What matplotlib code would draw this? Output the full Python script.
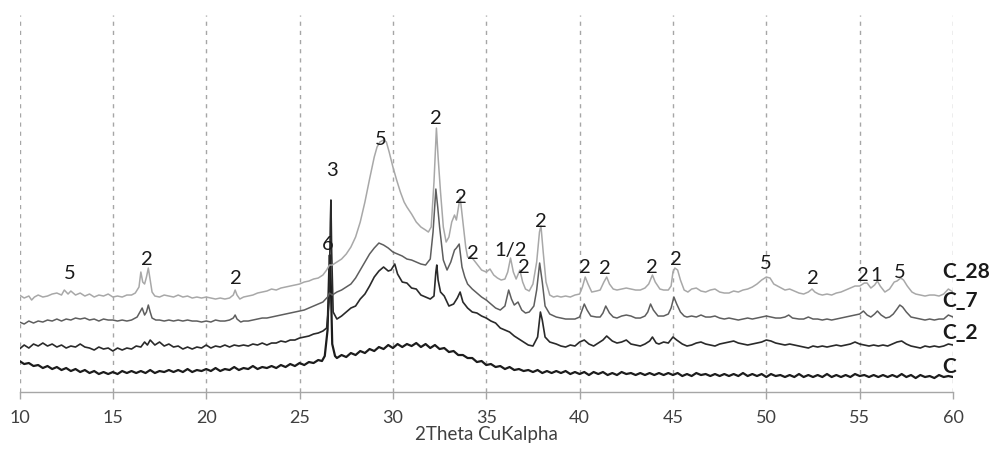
import matplotlib
matplotlib.use("Agg")
import matplotlib.pyplot as plt

plt.rcParams['font.family'] = ['Lato', 'DejaVu Sans']
plt.rcParams['lines.scale_dashes'] = False

# ---- data: 2theta (deg) and relative intensity (arbitrary, offset stacked) ----
c_pts = [(10.0,31),(10.25,28),(10.5,29),(10.75,26),(11.0,27),(11.25,24),(11.5,26),(11.75,23),(12.0,25),(12.25,22),(12.5,24),(12.75,21),(13.0,23),(13.25,20),(13.5,22),(13.75,19),(14.0,21),(14.25,18),(14.5,20),(14.75,18),(15.0,20),(15.25,18),(15.5,21),(15.75,19),(16.0,21),(16.25,19),(16.5,21),(16.75,19),(17.0,22),(17.25,19),(17.5,21),(17.75,20),(18.0,22),(18.25,20),(18.5,22),(18.75,20),(19.0,23),(19.25,20),(19.5,22),(19.75,21),(20.0,23),(20.25,21),(20.5,24),(20.75,21),(21.0,23),(21.25,22),(21.5,25),(21.75,22),(22.0,24),(22.25,23),(22.5,26),(22.75,23),(23.0,25),(23.25,24),(23.5,26),(23.75,24),(24.0,27),(24.25,25),(24.5,28),(24.75,26),(25.0,29),(25.25,27),(25.5,30),(25.75,29),(26.0,32),(26.2,31),(26.35,36),(26.5,62),(26.58,118),(26.62,137),(26.67,112),(26.75,48),(26.9,36),(27.0,34),(27.25,37),(27.5,35),(27.75,39),(28.0,37),(28.25,41),(28.5,39),(28.75,43),(29.0,41),(29.25,45),(29.5,43),(29.75,47),(30.0,44),(30.25,48),(30.5,45),(30.75,48),(31.0,46),(31.25,49),(31.5,45),(31.75,48),(32.0,44),(32.25,47),(32.5,43),(32.75,44),(33.0,40),(33.25,41),(33.5,37),(33.75,37),(34.0,34),(34.25,34),(34.5,30),(34.75,31),(35.0,27),(35.25,28),(35.5,25),(35.75,26),(36.0,23),(36.25,25),(36.5,22),(36.75,23),(37.0,21),(37.25,22),(37.5,20),(37.75,22),(38.0,19),(38.25,21),(38.5,19),(38.75,21),(39.0,19),(39.25,21),(39.5,18),(39.75,20),(40.0,18),(40.25,20),(40.5,17),(40.75,20),(41.0,18),(41.25,20),(41.5,17),(41.75,19),(42.0,17),(42.25,20),(42.5,18),(42.75,19),(43.0,17),(43.25,19),(43.5,17),(43.75,19),(44.0,17),(44.25,19),(44.5,17),(44.75,19),(45.0,17),(45.25,19),(45.5,16),(45.75,18),(46.0,16),(46.25,19),(46.5,17),(46.75,18),(47.0,16),(47.25,18),(47.5,16),(47.75,18),(48.0,16),(48.25,18),(48.5,16),(48.75,19),(49.0,16),(49.25,18),(49.5,16),(49.75,18),(50.0,15),(50.25,18),(50.5,16),(50.75,17),(51.0,15),(51.25,17),(51.5,15),(51.75,18),(52.0,15),(52.25,17),(52.5,15),(52.75,17),(53.0,15),(53.25,18),(53.5,15),(53.75,17),(54.0,15),(54.25,17),(54.5,15),(54.75,18),(55.0,16),(55.25,17),(55.5,15),(55.75,17),(56.0,15),(56.25,17),(56.5,15),(56.75,17),(57.0,15),(57.25,18),(57.5,15),(57.75,17),(58.0,14),(58.25,17),(58.5,15),(58.75,16),(59.0,14),(59.25,17),(59.5,15),(59.75,16),(60.0,15)]

c2_pts = [(10.0,43),(10.25,47),(10.5,44),(10.75,48),(11.0,46),(11.25,49),(11.5,46),(11.75,48),(12.0,45),(12.25,47),(12.5,44),(12.75,46),(13.0,45),(13.25,48),(13.5,45),(13.75,44),(14.0,42),(14.25,45),(14.5,43),(14.75,44),(15.0,41),(15.25,44),(15.5,42),(15.75,44),(16.0,43),(16.25,46),(16.5,45),(16.7,50),(16.85,47),(17.0,52),(17.25,47),(17.5,50),(17.75,46),(18.0,48),(18.25,45),(18.5,46),(18.75,43),(19.0,45),(19.25,43),(19.5,45),(19.75,44),(20.0,47),(20.25,44),(20.5,46),(20.75,45),(21.0,47),(21.25,45),(21.5,47),(21.75,46),(22.0,47),(22.25,46),(22.5,48),(22.75,47),(23.0,49),(23.25,47),(23.5,49),(23.75,49),(24.0,51),(24.25,50),(24.5,52),(24.75,52),(25.0,54),(25.25,55),(25.5,56),(25.75,58),(26.0,59),(26.25,61),(26.45,64),(26.58,90),(26.65,170),(26.68,192),(26.72,140),(26.8,80),(27.0,73),(27.25,76),(27.5,80),(27.75,84),(28.0,86),(28.25,93),(28.5,98),(28.75,106),(29.0,115),(29.25,121),(29.5,125),(29.75,121),(29.9,122),(30.1,128),(30.25,118),(30.5,110),(30.75,109),(31.0,104),(31.25,103),(31.5,97),(31.75,95),(32.0,93),(32.2,96),(32.3,120),(32.35,127),(32.42,112),(32.55,100),(32.75,96),(33.0,86),(33.25,88),(33.45,94),(33.6,100),(33.75,90),(34.0,84),(34.25,80),(34.5,79),(34.75,76),(35.0,74),(35.25,71),(35.5,69),(35.75,64),(36.0,62),(36.25,60),(36.5,56),(36.75,53),(37.0,50),(37.25,47),(37.5,46),(37.75,55),(37.9,80),(38.0,72),(38.15,55),(38.4,50),(38.75,48),(39.0,46),(39.25,45),(39.5,47),(39.75,46),(40.0,50),(40.25,52),(40.5,48),(40.75,46),(41.0,49),(41.25,52),(41.45,56),(41.75,51),(42.0,49),(42.25,50),(42.5,52),(42.75,48),(43.0,47),(43.25,46),(43.5,48),(43.75,51),(43.9,55),(44.1,49),(44.25,48),(44.5,50),(44.75,49),(45.0,55),(45.2,52),(45.5,48),(45.75,46),(46.0,47),(46.25,49),(46.5,50),(46.75,48),(47.0,47),(47.25,46),(47.5,48),(47.75,49),(48.0,50),(48.25,51),(48.5,49),(48.75,48),(49.0,47),(49.25,48),(49.5,49),(49.75,50),(50.0,52),(50.25,51),(50.5,49),(50.75,48),(51.0,47),(51.25,48),(51.5,47),(51.75,46),(52.0,45),(52.25,44),(52.5,46),(52.75,45),(53.0,46),(53.25,45),(53.5,46),(53.75,47),(54.0,46),(54.25,47),(54.5,48),(54.75,50),(55.0,48),(55.25,47),(55.5,46),(55.75,47),(56.0,46),(56.25,47),(56.5,46),(56.75,48),(57.0,50),(57.25,51),(57.5,48),(57.75,46),(58.0,45),(58.25,44),(58.5,46),(58.75,45),(59.0,46),(59.25,45),(59.5,46),(59.75,48),(60.0,47)]

c7_pts = [(10.0,70),(10.25,68),(10.5,71),(10.75,69),(11.0,71),(11.25,70),(11.5,72),(11.75,71),(12.0,73),(12.25,71),(12.5,73),(12.75,72),(13.0,74),(13.25,73),(13.5,74),(13.75,72),(14.0,73),(14.25,71),(14.5,73),(14.75,72),(15.0,72),(15.25,71),(15.5,72),(15.75,71),(16.0,72),(16.3,75),(16.45,80),(16.57,84),(16.7,77),(16.8,80),(16.9,87),(17.0,80),(17.1,74),(17.3,72),(17.5,72),(17.75,71),(18.0,72),(18.25,71),(18.5,72),(18.75,71),(19.0,72),(19.25,71),(19.5,71),(19.75,70),(20.0,71),(20.25,70),(20.5,72),(20.75,71),(21.0,71),(21.25,72),(21.45,74),(21.55,77),(21.65,73),(21.85,70),(22.0,71),(22.25,71),(22.5,72),(22.75,73),(23.0,74),(23.25,74),(23.5,75),(23.75,76),(24.0,77),(24.25,78),(24.5,79),(24.75,80),(25.0,81),(25.25,82),(25.5,84),(25.75,86),(26.0,88),(26.25,90),(26.5,95),(26.6,99),(26.75,97),(27.0,100),(27.25,102),(27.5,105),(27.75,108),(28.0,114),(28.25,122),(28.5,130),(28.75,138),(29.0,144),(29.25,149),(29.5,147),(29.75,144),(30.0,140),(30.25,138),(30.5,136),(30.75,133),(31.0,132),(31.25,130),(31.5,128),(31.75,127),(32.0,133),(32.15,160),(32.3,203),(32.4,185),(32.5,165),(32.7,132),(32.9,122),(33.1,130),(33.3,142),(33.4,144),(33.55,148),(33.7,125),(33.85,115),(34.0,108),(34.25,103),(34.5,99),(34.75,95),(35.0,92),(35.25,88),(35.5,84),(35.75,82),(36.0,86),(36.2,102),(36.35,93),(36.5,87),(36.7,90),(36.9,82),(37.1,79),(37.3,80),(37.55,86),(37.7,102),(37.86,129),(38.0,110),(38.15,86),(38.4,78),(38.75,75),(39.0,74),(39.25,73),(39.5,73),(39.75,73),(40.0,75),(40.25,88),(40.4,82),(40.6,76),(40.9,75),(41.1,75),(41.25,79),(41.4,86),(41.6,79),(41.8,75),(42.0,74),(42.25,76),(42.5,77),(42.75,76),(43.0,74),(43.25,74),(43.5,76),(43.65,80),(43.8,88),(43.95,82),(44.2,76),(44.5,76),(44.75,78),(44.9,84),(45.05,95),(45.2,88),(45.4,80),(45.6,76),(45.75,75),(46.0,76),(46.25,75),(46.5,77),(46.75,75),(47.0,75),(47.25,76),(47.5,74),(47.75,73),(48.0,74),(48.25,73),(48.5,72),(48.75,73),(49.0,74),(49.25,73),(49.5,74),(49.75,75),(50.0,76),(50.25,75),(50.5,74),(50.75,74),(51.0,75),(51.2,77),(51.4,74),(51.75,73),(52.0,73),(52.25,75),(52.5,73),(52.75,73),(53.0,72),(53.25,73),(53.5,72),(53.75,73),(54.0,74),(54.25,75),(54.5,76),(54.75,77),(55.0,78),(55.2,81),(55.4,77),(55.6,75),(55.8,78),(55.95,81),(56.15,77),(56.4,74),(56.6,75),(56.8,78),(57.0,83),(57.15,87),(57.3,85),(57.5,80),(57.75,75),(58.0,74),(58.25,73),(58.5,72),(58.75,73),(59.0,72),(59.25,73),(59.5,73),(59.75,77),(60.0,75)]

c28_pts = [(10.0,97),(10.25,94),(10.5,96),(10.65,92),(10.8,95),(11.0,97),(11.25,95),(11.5,96),(11.75,98),(12.0,99),(12.25,97),(12.4,102),(12.6,98),(12.75,101),(13.0,97),(13.25,99),(13.5,96),(13.75,98),(14.0,95),(14.25,97),(14.5,96),(14.75,98),(15.0,95),(15.25,96),(15.5,95),(15.75,97),(16.0,97),(16.2,99),(16.4,105),(16.5,120),(16.6,110),(16.7,108),(16.8,115),(16.9,124),(17.0,112),(17.1,100),(17.25,96),(17.5,95),(17.75,97),(18.0,96),(18.25,95),(18.5,97),(18.75,95),(19.0,96),(19.25,94),(19.5,95),(19.75,94),(20.0,95),(20.25,94),(20.5,93),(20.75,94),(21.0,93),(21.25,94),(21.45,97),(21.55,102),(21.65,97),(21.8,93),(22.0,95),(22.25,96),(22.5,97),(22.75,99),(23.0,100),(23.25,101),(23.5,103),(23.75,102),(24.0,104),(24.25,105),(24.5,106),(24.75,107),(25.0,108),(25.25,110),(25.5,111),(25.75,113),(26.0,114),(26.25,117),(26.45,122),(26.6,127),(26.75,127),(27.0,130),(27.25,133),(27.5,138),(27.75,145),(28.0,155),(28.25,170),(28.5,190),(28.75,213),(29.0,235),(29.15,245),(29.3,250),(29.5,252),(29.65,250),(29.8,240),(30.0,225),(30.2,212),(30.4,200),(30.6,190),(30.75,185),(31.0,178),(31.25,170),(31.5,165),(31.75,162),(31.9,160),(32.05,165),(32.2,210),(32.33,264),(32.42,235),(32.55,200),(32.7,165),(32.85,150),(33.0,155),(33.15,170),(33.3,177),(33.4,172),(33.6,195),(33.75,170),(33.9,145),(34.0,135),(34.25,134),(34.5,128),(34.75,122),(35.0,120),(35.2,123),(35.4,117),(35.6,114),(35.8,112),(36.0,113),(36.15,120),(36.3,134),(36.45,120),(36.6,113),(36.8,122),(36.95,110),(37.1,103),(37.3,101),(37.5,108),(37.7,130),(37.85,160),(37.93,166),(38.05,140),(38.2,110),(38.4,97),(38.6,95),(38.8,96),(39.0,95),(39.25,96),(39.5,95),(39.75,97),(40.0,98),(40.15,105),(40.3,115),(40.45,108),(40.65,100),(40.9,101),(41.1,102),(41.3,110),(41.45,115),(41.6,108),(41.8,103),(42.0,102),(42.25,103),(42.5,104),(42.75,103),(43.0,102),(43.25,102),(43.5,104),(43.7,108),(43.9,117),(44.05,110),(44.3,103),(44.5,102),(44.75,102),(44.9,106),(45.0,120),(45.1,124),(45.25,122),(45.4,112),(45.6,102),(45.8,100),(46.0,103),(46.25,104),(46.5,101),(46.75,100),(47.0,102),(47.25,103),(47.5,100),(47.75,99),(48.0,99),(48.25,101),(48.5,100),(48.75,102),(49.0,103),(49.25,105),(49.5,108),(49.75,112),(50.0,115),(50.2,114),(50.4,108),(50.6,106),(50.8,104),(51.0,102),(51.25,103),(51.5,101),(51.75,99),(52.0,98),(52.25,100),(52.45,103),(52.6,100),(52.8,98),(53.0,97),(53.25,98),(53.5,97),(53.75,99),(54.0,100),(54.25,102),(54.5,104),(54.75,106),(55.0,106),(55.25,109),(55.4,109),(55.6,104),(55.8,107),(55.95,111),(56.1,106),(56.35,100),(56.6,103),(56.85,110),(57.0,111),(57.2,114),(57.35,112),(57.55,106),(57.8,100),(58.0,98),(58.25,97),(58.5,96),(58.75,97),(59.0,97),(59.25,96),(59.5,98),(59.75,103),(60.0,100)]

series_names = ['C', 'C_2', 'C_7', 'C_28']
series_label_y = [25, 59, 91, 120]

# peak annotations: (label, 2theta, height)
peak_labels = ['5', '2', '2', '6', '3', '5', '2', '2', '2', '1/2', '2', '2', '2', '2', '2', '2', '5', '2', '2', '1', '5']
peak_x = [12.70, 16.83, 21.6, 26.52, 26.74, 29.36, 32.32, 33.63, 34.27, 36.31, 37.02, 37.92, 40.29, 41.36, 43.87, 45.17, 49.98, 52.48, 55.16, 55.91, 57.16]
peak_y = [119, 133, 114, 148, 222, 253, 274, 195, 139, 142, 125, 171, 125, 124, 125, 133, 129, 114, 117, 117, 120]

x_ticks = [10, 15, 20, 25, 30, 35, 40, 45, 50, 55, 60]

fig = plt.figure(figsize=(9.93, 4.49), dpi=100)
ax = fig.add_axes([0.01964, 0.1269, 0.9401, 0.8396])

styles = [
    dict(color='#1c1c1c', lw=1.6),
    dict(color='#2a2a2a', lw=1.2),
    dict(color='#5e5e5e', lw=1.1),
    dict(color='#a8a8a8', lw=1.1),
]
for pts, st in zip([c_pts, c2_pts, c7_pts, c28_pts], styles):
    xs = [p[0] for p in pts]
    ys = [p[1] for p in pts]
    ax.plot(xs, ys, solid_joinstyle='round', zorder=3, **st)

ax.set_xlim(10, 60)
ax.set_ylim(0, 377)
ax.set_xticks(x_ticks)
ax.set_yticks([])
for s in ['left', 'right', 'top']:
    ax.spines[s].set_visible(False)
ax.spines['bottom'].set_color('#a6a6a6')
ax.spines['bottom'].set_linewidth(1.0)
ax.tick_params(axis='x', direction='out', length=5, width=1.0, color='#a6a6a6',
               labelsize=13, labelcolor='#404040', pad=8)
ax.xaxis.grid(True, color='#a6a6a6', linewidth=1.0, linestyle=(0, (3.0, 3.6)))
ax.set_axisbelow(True)
ax.set_xlabel('2Theta CuKalpha', fontsize=13.5, color='#404040', labelpad=0)

for lab, px, py in zip(peak_labels, peak_x, peak_y):
    ax.text(px, py, lab, ha='center', va='center', fontsize=14.5, color='#1a1a1a', zorder=4)

for name, ly in zip(series_names, series_label_y):
    ax.text(59.41, ly, name, ha='left', va='center', fontsize=15, fontweight='bold',
            color='#1a1a1a', zorder=4, clip_on=False)

fig.savefig('out.png', dpi=100)
